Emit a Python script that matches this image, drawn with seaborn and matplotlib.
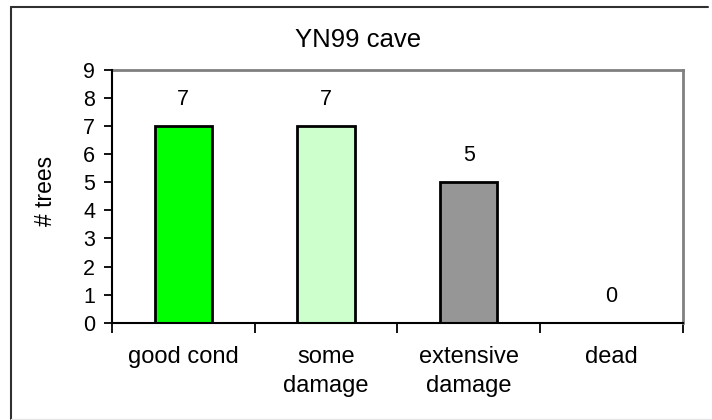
import matplotlib
matplotlib.use("Agg")
import matplotlib.pyplot as plt
from matplotlib.lines import Line2D
from matplotlib.ticker import FixedLocator
import seaborn as sns
import pandas as pd

# Tree condition counts at the YN99 cave site
categories = ["good cond", "some\ndamage", "extensive\ndamage", "dead"]
tree_counts = [7, 7, 5, 0]
bar_colors = ["#00FF00", "#CCFFCC", "#969696", "#FFFFFF"]
y_ticks = [0, 1, 2, 3, 4, 5, 6, 7, 8, 9]

sns.set_theme(style="white")
plt.rcParams["font.family"] = ["Liberation Sans", "DejaVu Sans"]

df = pd.DataFrame({"condition": categories, "trees": tree_counts})

W, H = 712, 420
fig = plt.figure(figsize=(W / 100, H / 100), dpi=100)
fig.patch.set_facecolor("white")

# plot area in pixel coordinates (left, top, right, bottom)
L, T, R, B = 111.7, 70.0, 683.0, 322.7
ax = fig.add_axes([L / W, 1 - B / H, (R - L) / W, (B - T) / H])

sns.barplot(data=df, x="condition", y="trees", hue="condition",
            palette=bar_colors, legend=False, width=0.4,
            edgecolor="black", linewidth=2.0, saturation=1, ax=ax)

ax.set_xlim(-0.5, len(categories) - 0.5)
ax.set_ylim(0, 9)
ax.set_yticks(y_ticks)
ax.set_yticklabels([str(v) for v in y_ticks], fontsize=15.5)

# category labels sit between boundary tick marks
ax.set_xticks(range(len(categories)))
ax.set_xticklabels(categories, fontsize=17, linespacing=1.4)
ax.xaxis.set_minor_locator(FixedLocator([i - 0.5 for i in range(len(categories) + 1)]))
ax.tick_params(axis="x", which="major", length=0, pad=17, colors="black")
ax.tick_params(axis="x", which="minor", bottom=True, length=7, width=1.3,
               color="black", direction="out")
ax.tick_params(axis="y", left=True, length=6, width=1.3, pad=6,
               color="black", direction="out", labelcolor="black")

ax.set_xlabel("")
ax.set_ylabel("# trees", fontsize=16.5, color="black")
ax.yaxis.set_label_coords((57 - L) / (R - L), (B - 191) / (B - T))

for side in ["top", "right"]:
    ax.spines[side].set_visible(True)
    ax.spines[side].set_color("#808080")
    ax.spines[side].set_linewidth(2.0)
for side in ["left", "bottom"]:
    ax.spines[side].set_color("black")
    ax.spines[side].set_linewidth(1.5)
    ax.spines[side].set_zorder(5)

# value labels above each bar
for i, v in enumerate(tree_counts):
    ax.annotate(str(v), (i, v), xytext=(0, 11.5), textcoords="offset points",
                ha="center", va="bottom", fontsize=15.5, color="black")

fig.text(358 / W, 1 - 40 / H, "YN99 cave", ha="center", va="center",
         fontsize=18.5, color="black")

# chart frame
def px_line(x0, y0, x1, y1, color, lw):
    fig.add_artist(Line2D([x0 / W, x1 / W], [1 - y0 / H, 1 - y1 / H],
                          transform=fig.transFigure, color=color, lw=lw))

px_line(10.5, 7, 708, 7, "#303030", 1.5)
px_line(10.5, 7, 10.5, 418.5, "#303030", 1.5)
px_line(10.5, 418.5, 712, 418.5, "#e6e6e6", 1.0)

fig.savefig("out.png", dpi=100, facecolor="white")
